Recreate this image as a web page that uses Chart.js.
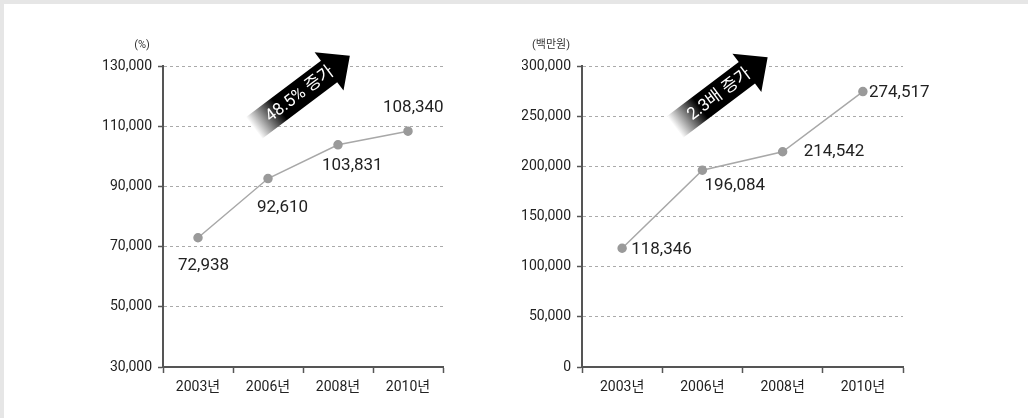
<!DOCTYPE html>
<html><head><meta charset="utf-8">
<script src="https://cdn.jsdelivr.net/npm/chart.js@4.4.1/dist/chart.umd.min.js"></script>
<style>
html,body{margin:0;padding:0;background:#fff;}
body{width:1028px;height:418px;position:relative;overflow:hidden;}
#bt{position:absolute;left:0;top:0;width:1028px;height:4px;background:#e6e6e6;}
#bl{position:absolute;left:0;top:0;width:4px;height:418px;background:#e6e6e6;}
canvas{position:absolute;top:0;}
</style></head><body>
<div id="bt"></div><div id="bl"></div>
<canvas id="c1" width="514" height="418" style="left:0"></canvas>
<canvas id="c2" width="514" height="418" style="left:514px"></canvas>
<script>
// ---- data ----
const categories = ['2003년', '2006년', '2008년', '2010년'];
const leftValues = [72938, 92610, 103831, 108340];
const rightValues = [118346, 196084, 214542, 274517];
const leftTicks = [30000, 50000, 70000, 90000, 110000, 130000];
const rightTicks = [0, 50000, 100000, 150000, 200000, 250000, 300000];
const leftUnit = '(%)';
const rightUnit = '(백만원)';
const leftArrowText = '48.5% 증가';
const rightArrowText = '2.3배 증가';

// ---- styling (label offsets relative to point, left-aligned text) ----
const leftLabelOffsets = [[-20, 28], [-11, 29], [-16, 21], [-25, -23]];
const rightLabelOffsets = [[9, 1], [2, 15], [21, 0], [6, 1]];

const FONT = "Roboto, 'Noto Sans CJK KR', sans-serif";
const fmt = v => Number(v).toLocaleString('en-US');

const overlayPlugin = {
  id: 'overlay',
  afterDatasetsDraw(chart, args, opts) {
    const ctx = chart.ctx;
    const meta = chart.getDatasetMeta(0);
    const vals = chart.data.datasets[0].data;
    ctx.save();
    // data labels
    ctx.font = '17px ' + FONT;
    ctx.fillStyle = '#222';
    ctx.textAlign = 'left';
    ctx.textBaseline = 'middle';
    meta.data.forEach((pt, i) => {
      const o = opts.offsets[i];
      ctx.fillText(fmt(vals[i]), pt.x + o[0], pt.y + o[1]);
    });
    // unit label
    ctx.font = '11px ' + FONT;
    ctx.textAlign = 'center';
    ctx.fillStyle = '#333';
    ctx.fillText(opts.unit, opts.unitX, 45);
    // arrow
    const a = opts.arrow;
    ctx.translate(a.x, a.y);
    ctx.rotate(a.angle * Math.PI / 180);
    const L = a.len, bw = a.bw / 2, hw = a.hw / 2, hl = a.hl;
    const g = ctx.createLinearGradient(0, 0, 32, 0);
    g.addColorStop(0, '#ffffff');
    g.addColorStop(1, '#000000');
    ctx.beginPath();
    ctx.moveTo(0, -bw);
    ctx.lineTo(L, -bw);
    ctx.lineTo(L, -hw);
    ctx.lineTo(L + hl, 0);
    ctx.lineTo(L, hw);
    ctx.lineTo(L, bw);
    ctx.lineTo(0, bw);
    ctx.closePath();
    ctx.fillStyle = g;
    ctx.fill();
    ctx.fillStyle = '#fff';
    ctx.font = '17px ' + FONT;
    ctx.textAlign = 'center';
    ctx.textBaseline = 'middle';
    ctx.fillText(a.text, a.textX, 1);
    ctx.restore();
  }
};

function makeChart(id, values, ticks, padding, yWidth, overlay) {
  const step = ticks[1] - ticks[0];
  return new Chart(document.getElementById(id), {
    type: 'line',
    data: {
      labels: categories,
      datasets: [{
        data: values,
        borderColor: '#a8a8a8',
        borderWidth: 1.5,
        pointBackgroundColor: '#9a9a9a',
        pointBorderColor: '#9a9a9a',
        pointRadius: 4,
        tension: 0,
        clip: false
      }]
    },
    plugins: [overlayPlugin],
    options: {
      responsive: false,
      animation: false,
      devicePixelRatio: 1,
      layout: { padding: padding },
      plugins: {
        legend: { display: false },
        tooltip: { enabled: false },
        overlay: overlay
      },
      scales: {
        x: {
          type: 'category',
          offset: true,
          grid: {
            offset: true,
            drawOnChartArea: false,
            drawTicks: true,
            tickLength: 6,
            tickColor: '#555',
            tickWidth: 1.5,
            color: '#555'
          },
          border: { display: true, color: '#555', width: 2 },
          ticks: {
            color: '#222',
            font: { family: FONT, size: 14 },
            padding: 6,
            maxRotation: 0,
            autoSkip: false
          },
          afterFit(s) { s.height = 30; }
        },
        y: {
          min: ticks[0],
          max: ticks[ticks.length - 1],
          grid: {
            color: '#aaaaaa',
            lineWidth: 1,
            drawTicks: true,
            tickLength: 5,
            tickColor: '#555',
            tickWidth: 1.5,
            tickBorderDash: []
          },
          border: { display: true, color: '#555', width: 2, dash: [3, 3] },
          ticks: {
            stepSize: step,
            color: '#222',
            font: { family: FONT, size: 14 },
            padding: 6,
            callback: v => fmt(v)
          },
          afterFit(s) { s.width = yWidth; }
        }
      }
    }
  });
}

makeChart('c1', leftValues, leftTicks, { left: 93, right: 71, top: 66, bottom: 21 }, 70, {
  offsets: leftLabelOffsets,
  unit: leftUnit, unitX: 142,
  arrow: { x: 254, y: 128, angle: -37, len: 94, bw: 27, hw: 48, hl: 26, text: leftArrowText, textX: 57 }
});
makeChart('c2', rightValues, rightTicks, { left: 8, right: 125, top: 66, bottom: 21 }, 60, {
  offsets: rightLabelOffsets,
  unit: rightUnit, unitX: 37,
  arrow: { x: 161, y: 127, angle: -37, len: 90, bw: 27, hw: 48, hl: 26, text: rightArrowText, textX: 55 }
});
</script>
</body></html>
